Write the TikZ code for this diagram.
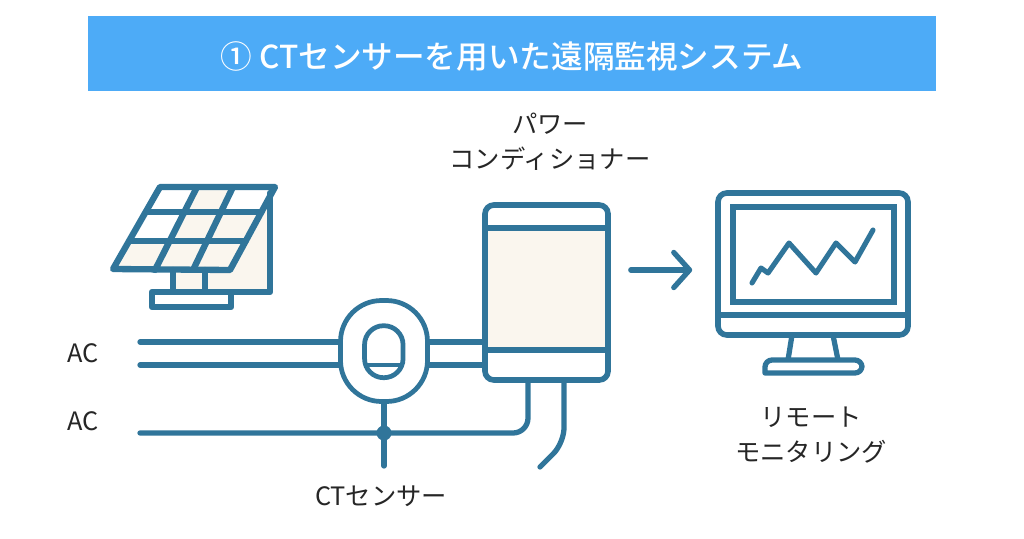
\documentclass[tikz,border=0pt]{standalone}
\usepackage{fontspec}
\setmainfont{Noto Sans CJK JP}
\newfontfamily\titlefont{Noto Sans CJK JP Medium}
\usepackage{tikz}
\usetikzlibrary{arrows.meta}
\definecolor{linecolor}{HTML}{30759A}
\definecolor{creamfill}{HTML}{FAF6EE}
\definecolor{titleblue}{HTML}{4DABF7}

\begin{document}
\begin{tikzpicture}[x=0.02cm,y=-0.02cm]

\tikzset{
wire/.style={draw=linecolor,line width=3pt,line cap=round,line join=round},
panel/.style={wire,line width=3.6pt},
box/.style={rectangle,minimum width=0pt,inner sep=0pt,draw=linecolor,line width=3.2pt},
label/.style={font=\fontsize{14.4pt}{17pt}\selectfont,text=black!85,inner sep=0pt}
}

\useasboundingbox (0,0) rectangle (1024,538);
\fill[white] (0,0) rectangle (1024,538);

\node[rectangle,fill=titleblue,minimum width=16.96cm,inner sep=0pt,minimum height=1.5cm,text=white,font=\fontsize{18pt}{20pt}\titlefont] (title) at (512,53.5) {\raisebox{-8.6pt}[0pt][0pt]{① CTセンサーを用いた遠隔監視システム}};

\fill[creamfill] (160,187)--(275,187)--(270,193)--(270,292)--(173,292)--(173,270)--(113,269)--cycle;
\fill[white] (160,187)--(197,187)--(184.4,212)--(146,212)--cycle;
\fill[white] (233,187)--(275,187)--(261.5,212)--(221,212)--cycle;
\fill[white] (146,212)--(184.4,212)--(169.7,241)--(129.4,241)--cycle;
\draw[panel] (173,270)--(173,292);
\draw[panel] (205,270)--(205,292);
\draw[panel] (270,193)--(270,292)--(205,292);
\draw[panel,fill=white] (152,292) rectangle (231,307);
\draw[panel] (160,187)--(275,187)--(230,270)--(113,269)--cycle;
\draw[panel] (146,212)--(261.5,212);
\draw[panel] (129.4,241)--(245.7,241);
\draw[panel] (197,187)--(155,270);
\draw[panel] (233,187)--(193,270);

\coordinate (ac-top) at (140,342);
\coordinate (ac-middle) at (140,365);
\coordinate (ac-bottom) at (140,433);
\coordinate (pcs-out-a) at (528,380);
\coordinate (pcs-out-b) at (564,380);
\coordinate (cable-end) at (540,467);
\coordinate (sensor-end) at (384,466);

\fill[creamfill] (485,228) rectangle (608,350);
\node[box,rounded corners=5pt,minimum width=2.46cm,minimum height=3.5cm] (power-conditioner) at (546.5,292.5) {};
\draw[wire] (485,228)--(608,228);
\draw[wire] (485,350)--(608,350);

\draw[wire] (ac-top)--(ac-top -| power-conditioner.west);
\draw[wire] (ac-middle)--(ac-middle -| power-conditioner.west);
\node[box,line width=2.7pt,fill=white,rounded corners=0.82cm,minimum width=1.74cm,minimum height=2.02cm] (ct-sensor) at (384,351) {};
\node[box,line width=2.7pt,fill=white,rounded corners=0.38cm,minimum width=0.77cm,minimum height=1.04cm] (ct-core) at (383.8,351.7) {};
\draw[wire,line width=2.7pt] (367,365)--(400,365);

\draw[wire,rounded corners=0.3cm] (ac-bottom)--(ac-bottom -| pcs-out-a)--(pcs-out-a);
\draw[wire,rounded corners=0.3cm] (pcs-out-b)--(564,443)--(cable-end);
\draw[wire] (ct-sensor.south)--(sensor-end);
\node[circle,fill=linecolor,minimum size=0.3cm,inner sep=0pt] (junction) at (384,433) {};

\node[box,rounded corners=5pt,minimum width=3.8cm,minimum height=2.84cm] (monitor) at (813,264) {};
\node[box,line width=3.4pt,minimum width=3.22cm,minimum height=1.9cm] (screen) at (813.5,254.5) {};
\draw[wire] (718,315)--(908,315);
\draw[wire,line cap=butt] (792,335)--(788,360);
\draw[wire,line cap=butt] (833,335)--(838,360);
\draw[wire] (765,373) [rounded corners=4pt] --(765,360)--(862,360)--(862,373) [sharp corners] --cycle;
\draw[wire,line width=2.9pt] (752,283)--(761,268)--(768,273)--(789,243)--(816,273)--(836,243)--(855,262)--(873,230);

\draw[wire,-{Straight Barb[length=9pt,width=20pt,round]},line width=3pt,shorten <=20*0.02cm,shorten >=23*0.02cm] (power-conditioner.east |- 0,270)--(monitor.west |- 0,270);

\node[label] (ac-label-a) at (83,353.5) {AC};
\node[label] (ac-label-b) at (83,421.5) {AC};
\node[label] (power-label-a) at (550,124) {パワー};
\node[label] (power-label-b) at (550,159) {コンディショナー};
\node[label] (ct-label) at (381,496) {CTセンサー};
\node[label] (remote-label-a) at (811,417) {リモート};
\node[label] (remote-label-b) at (811,452) {モニタリング};

\end{tikzpicture}
\end{document}
